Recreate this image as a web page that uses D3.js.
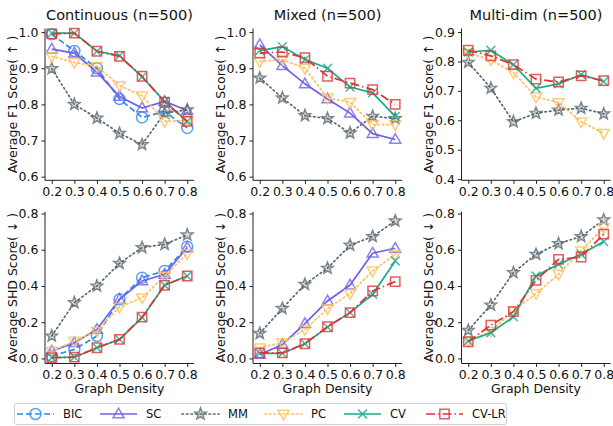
<!DOCTYPE html>
<html><head><meta charset="utf-8">
<script src="https://cdn.jsdelivr.net/npm/d3@7"></script>
<style>
html,body{margin:0;padding:0;background:#fff;}
svg{display:block;font-family:"DejaVu Sans",sans-serif;}
</style></head>
<body>
<svg id="chart" width="613" height="426"></svg>
<script>
// ---------- data ----------
const densities = [0.2, 0.3, 0.4, 0.5, 0.6, 0.7, 0.8];
const methods = ["BIC", "SC", "MM", "PC", "CV", "CV-LR"];
const panelTitles = ["Continuous (n=500)", "Mixed (n=500)", "Multi-dim (n=500)"];
const xTickLabels = ["0.2", "0.3", "0.4", "0.5", "0.6", "0.7", "0.8"];
const f1TicksA = [0.6, 0.7, 0.8, 0.9, 1.0];
const f1TicksB = [0.4, 0.5, 0.6, 0.7, 0.8, 0.9];
const shdTicks = [0.0, 0.2, 0.4, 0.6, 0.8];

// Continuous F1
const f1ContBIC  = [0.994, 0.948, 0.900, 0.815, 0.764, 0.780, 0.735];
const f1ContSC   = [0.953, 0.942, 0.889, 0.822, 0.790, 0.808, 0.783];
const f1ContMM   = [0.899, 0.800, 0.762, 0.720, 0.689, 0.776, 0.785];
const f1ContPC   = [0.933, 0.916, 0.905, 0.852, 0.824, 0.753, 0.756];
const f1ContCV   = [0.997, 0.997, 0.947, 0.935, 0.876, 0.808, 0.753];
const f1ContCVLR = [0.995, 0.997, 0.947, 0.933, 0.878, 0.806, 0.753];
// Mixed F1
const f1MixSC   = [0.965, 0.907, 0.857, 0.815, 0.776, 0.719, 0.703];
const f1MixMM   = [0.873, 0.818, 0.769, 0.761, 0.721, 0.767, 0.761];
const f1MixPC   = [0.919, 0.924, 0.900, 0.818, 0.806, 0.744, 0.744];
const f1MixCV   = [0.949, 0.960, 0.924, 0.900, 0.848, 0.832, 0.767];
const f1MixCVLR = [0.942, 0.945, 0.929, 0.878, 0.859, 0.841, 0.800];
// Multi-dim F1
const f1MultiMM   = [0.797, 0.709, 0.595, 0.624, 0.635, 0.641, 0.622];
const f1MultiPC   = [0.828, 0.806, 0.762, 0.680, 0.660, 0.595, 0.556];
const f1MultiCV   = [0.832, 0.838, 0.789, 0.709, 0.724, 0.755, 0.732];
const f1MultiCVLR = [0.838, 0.819, 0.789, 0.740, 0.730, 0.751, 0.735];
// Continuous SHD
const shdContBIC  = [0.013, 0.050, 0.124, 0.326, 0.446, 0.483, 0.617];
const shdContSC   = [0.040, 0.087, 0.160, 0.326, 0.428, 0.464, 0.612];
const shdContMM   = [0.124, 0.308, 0.400, 0.525, 0.612, 0.630, 0.682];
const shdContPC   = [0.040, 0.096, 0.150, 0.284, 0.335, 0.455, 0.579];
const shdContCV   = [0.004, 0.007, 0.059, 0.105, 0.225, 0.404, 0.455];
const shdContCVLR = [0.004, 0.007, 0.059, 0.105, 0.228, 0.404, 0.455];
// Mixed SHD
const shdMixSC   = [0.022, 0.077, 0.192, 0.317, 0.405, 0.581, 0.608];
const shdMixMM   = [0.138, 0.276, 0.409, 0.498, 0.625, 0.673, 0.759];
const shdMixPC   = [0.059, 0.087, 0.160, 0.275, 0.358, 0.483, 0.575];
const shdMixCV   = [0.028, 0.028, 0.081, 0.173, 0.253, 0.354, 0.538];
const shdMixCVLR = [0.031, 0.031, 0.081, 0.175, 0.253, 0.372, 0.424];
// Multi-dim SHD
const shdMultiMM   = [0.155, 0.295, 0.474, 0.575, 0.634, 0.673, 0.765];
const shdMultiPC   = [0.096, 0.151, 0.262, 0.358, 0.465, 0.594, 0.723];
const shdMultiCV   = [0.096, 0.142, 0.230, 0.455, 0.520, 0.575, 0.645];
const shdMultiCVLR = [0.092, 0.184, 0.258, 0.431, 0.547, 0.560, 0.686];

// ---------- styles ----------
const styles = {
  "BIC":   {color: "#2a8cf0", dash: "6,3",       marker: "circle"},
  "SC":    {color: "#7060ec", dash: null,        marker: "triUp"},
  "MM":    {color: "#5c6870", dash: "1.5,3",     marker: "star"},
  "PC":    {color: "#ffbf5e", dash: "1.5,3",     marker: "triDown"},
  "CV":    {color: "#14ad8c", dash: null,        marker: "x"},
  "CV-LR": {color: "#dc3535", dash: "9,3,1.5,3", marker: "square"}
};

const panels = [
  {col: 0, row: 0, title: panelTitles[0], ylab: "Average F1 Score( \u2191 )", ydom: [0.59, 1.01], ticks: f1TicksA,
   series: {"BIC": f1ContBIC, "SC": f1ContSC, "MM": f1ContMM, "PC": f1ContPC, "CV": f1ContCV, "CV-LR": f1ContCVLR}},
  {col: 1, row: 0, title: panelTitles[1], ylab: "Average F1 Score( \u2191 )", ydom: [0.59, 1.01], ticks: f1TicksA,
   series: {"SC": f1MixSC, "MM": f1MixMM, "PC": f1MixPC, "CV": f1MixCV, "CV-LR": f1MixCVLR}},
  {col: 2, row: 0, title: panelTitles[2], ylab: "Average F1 Score( \u2191 )", ydom: [0.396, 0.912], ticks: f1TicksB,
   series: {"MM": f1MultiMM, "PC": f1MultiPC, "CV": f1MultiCV, "CV-LR": f1MultiCVLR}},
  {col: 0, row: 1, title: null, ylab: "Average SHD Score( \u2193 )", ydom: [-0.028, 0.81], ticks: shdTicks, xlab: "Graph Density",
   series: {"BIC": shdContBIC, "SC": shdContSC, "MM": shdContMM, "PC": shdContPC, "CV": shdContCV, "CV-LR": shdContCVLR}},
  {col: 1, row: 1, title: null, ylab: "Average SHD Score( \u2193 )", ydom: [-0.028, 0.81], ticks: shdTicks, xlab: "Graph Density",
   series: {"SC": shdMixSC, "MM": shdMixMM, "PC": shdMixPC, "CV": shdMixCV, "CV-LR": shdMixCVLR}},
  {col: 2, row: 1, title: null, ylab: "Average SHD Score( \u2193 )", ydom: [-0.028, 0.81], ticks: shdTicks, xlab: "Graph Density",
   series: {"MM": shdMultiMM, "PC": shdMultiPC, "CV": shdMultiCV, "CV-LR": shdMultiCVLR}}
];

// ---------- layout ----------
const colLeft = [45, 253, 461.5];
const panelW = 149;
const rowTop = [28.5, 211.7];
const panelH = 151.8;
const ylabX = [13, 221, 429];

const svg = d3.select("#chart");

function markerPath(type, s) {
  const h = s / 2;
  switch (type) {
    case "circle": return d3.symbol(d3.symbolCircle, Math.PI * h * h)();
    case "square": return `M${-h*0.85},${-h*0.85}H${h*0.85}V${h*0.85}H${-h*0.85}Z`;
    case "triUp": return `M0,${-h*1.05}L${h},${h*0.7}L${-h},${h*0.7}Z`;
    case "triDown": return `M0,${h*1.05}L${h},${-h*0.7}L${-h},${-h*0.7}Z`;
    case "x": return `M${-h*0.8},${-h*0.8}L${h*0.8},${h*0.8}M${-h*0.8},${h*0.8}L${h*0.8},${-h*0.8}`;
    case "star": {
      let p = "";
      for (let i = 0; i < 10; i++) {
        const r = i % 2 === 0 ? h * 1.1 : h * 0.47;
        const a = -Math.PI / 2 + i * Math.PI / 5;
        p += (i === 0 ? "M" : "L") + (r * Math.cos(a)).toFixed(2) + "," + (r * Math.sin(a)).toFixed(2);
      }
      return p + "Z";
    }
  }
}

function drawMarker(g, type, color, x, y) {
  const m = g.append("path").attr("d", markerPath(type, 11))
    .attr("transform", `translate(${x},${y})`)
    .attr("stroke", color).attr("stroke-width", 1.5).attr("opacity", 0.8);
  if (type === "star") m.attr("fill", color).attr("fill-opacity", 0.3);
  else m.attr("fill", "none");
}

panels.forEach(p => {
  const x0 = colLeft[p.col], y0 = rowTop[p.row];
  const g = svg.append("g").attr("transform", `translate(${x0},${y0})`);
  const xs = d3.scaleLinear().domain([0.17, 0.83]).range([0, panelW]);
  const ys = d3.scaleLinear().domain(p.ydom).range([panelH, 0]);

  const xAxis = d3.axisBottom(xs).tickValues(densities).tickFormat((d, i) => xTickLabels[i]).tickSize(3.5).tickPadding(3);
  const yAxis = d3.axisLeft(ys).tickValues(p.ticks).tickFormat(d3.format(".1f")).tickSize(3.5).tickPadding(3);
  const gx = g.append("g").attr("transform", `translate(0,${panelH})`).call(xAxis);
  const gy = g.append("g").call(yAxis);
  [gx, gy].forEach(a => {
    a.select(".domain").attr("stroke", "#222").attr("stroke-width", 1);
    a.selectAll(".tick line").attr("stroke", "#222");
    a.selectAll(".tick text").attr("font-size", 12.5).attr("fill", "#111").attr("font-family", "DejaVu Sans");
  });
  gx.select(".domain").attr("d", `M0,0H${panelW}`);
  gy.select(".domain").attr("d", `M0,0V${panelH}`);

  const line = d3.line().x((d, i) => xs(densities[i])).y(d => ys(d));
  methods.forEach(m => {
    const vals = p.series[m];
    if (!vals) return;
    const st = styles[m];
    g.append("path").datum(vals).attr("d", line)
      .attr("fill", "none").attr("stroke", st.color).attr("stroke-width", 1.7)
      .attr("stroke-dasharray", st.dash).attr("stroke-linecap", st.dash && st.dash.startsWith("1.5") ? "round" : "butt");
    vals.forEach((v, i) => drawMarker(g, st.marker, st.color, xs(densities[i]), ys(v)));
  });

  if (p.title) {
    svg.append("text").attr("x", x0 + panelW / 2).attr("y", 20)
      .attr("text-anchor", "middle").attr("font-size", 14.5).attr("fill", "#111").text(p.title);
  }
  svg.append("text").attr("transform", `translate(${ylabX[p.col]},${y0 + panelH / 2}) rotate(-90)`)
    .attr("text-anchor", "middle").attr("dominant-baseline", "middle")
    .attr("font-size", 12.5).attr("fill", "#111").text(p.ylab);
  if (p.xlab) {
    svg.append("text").attr("x", x0 + panelW / 2).attr("y", 393)
      .attr("text-anchor", "middle").attr("font-size", 12.5).attr("fill", "#111").text(p.xlab);
  }
});

// ---------- legend ----------
const legend = svg.append("g");
legend.append("rect").attr("x", 14.5).attr("y", 403.5).attr("width", 492).attr("height", 21)
  .attr("rx", 2).attr("fill", "#fff").attr("stroke", "#d0d0d0");
const legX = [17, 100, 182, 265, 344, 426];
methods.forEach((m, i) => {
  const st = styles[m];
  const lx = legX[i], ly = 414;
  legend.append("line").attr("x1", lx).attr("x2", lx + 37).attr("y1", ly).attr("y2", ly)
    .attr("stroke", st.color).attr("stroke-width", 1.7).attr("stroke-dasharray", st.dash)
    .attr("stroke-linecap", st.dash && st.dash.startsWith("1.5") ? "round" : "butt");
  drawMarker(legend, st.marker, st.color, lx + 18.5, ly);
  legend.append("text").attr("x", lx + 46).attr("y", ly).attr("dominant-baseline", "central")
    .attr("font-size", 11.5).attr("fill", "#111").text(m);
});
</script>
</body></html>
